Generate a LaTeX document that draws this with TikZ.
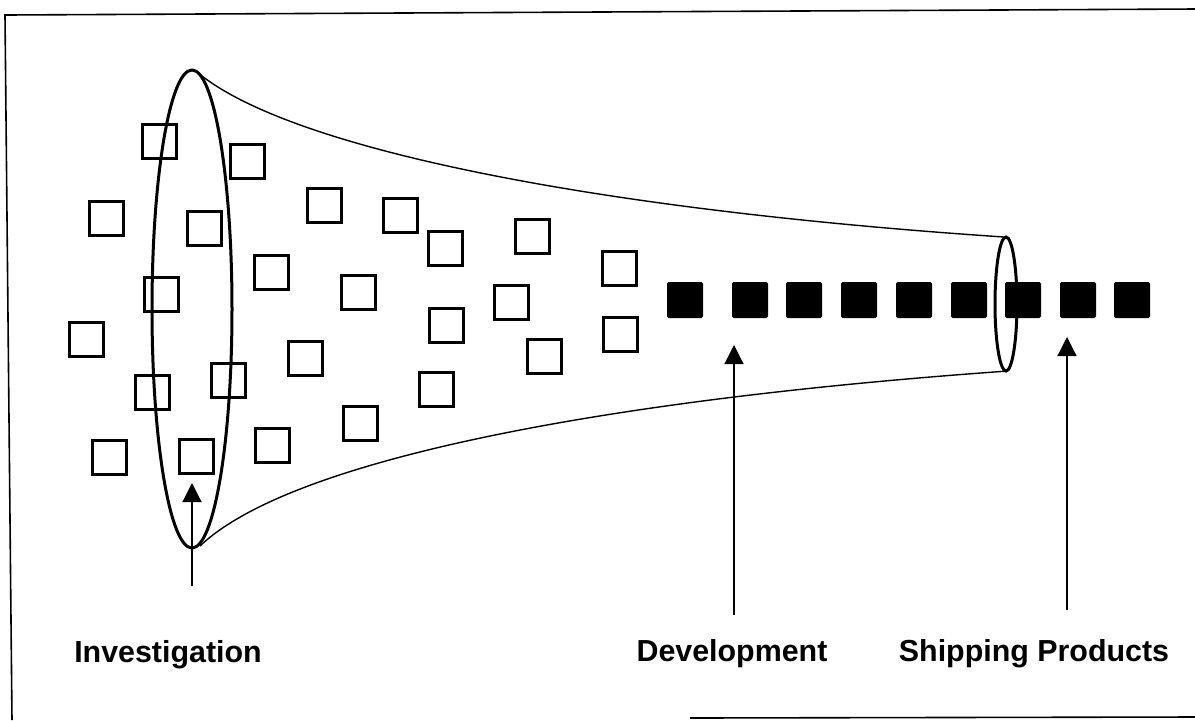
\documentclass[tikz,border=0pt]{standalone}
\usepackage{fontspec}
\setmainfont{Liberation Sans}
\usetikzlibrary{arrows.meta}

\tikzset{
  openbox/.style={draw, line width=1.5pt, inner sep=0pt, minimum size=17pt},
  fullbox/.style={fill=black, rounded corners=0.8pt, inner sep=0pt, minimum size=18pt},
  rim/.style={line width=1.5pt},
  skin/.style={line width=0.7pt},
  pointer/.style={line width=0.6pt, -{Triangle[length=9.5pt,width=9.5pt]}},
  tag/.style={font=\bfseries\fontsize{15.2pt}{18pt}\selectfont, anchor=base, inner sep=0pt}
}

\begin{document}
\begin{tikzpicture}[x=0.5pt, y=-0.5pt]

  \useasboundingbox (0,0) rectangle (1195,720);

  % cadre
  \draw[line width=0.8pt] (1195,9) -- (5,15) -- (12,720);
  \draw[line width=0.8pt] (690,718) -- (1195,717);

  % entonnoir
  \coordinate (bigtop) at (197,72);
  \coordinate (bigbot) at (200,546);
  \coordinate (smalltop) at (1004,237);
  \coordinate (smallbot) at (1008,371);
  \draw[rim] (192,309) ellipse (40 and 239);
  \draw[rim] (1006,304) ellipse (11 and 67);
  \draw[skin] (bigtop) .. controls (290,150) and (600,210) .. (smalltop);
  \draw[skin] (bigbot) .. controls (290,460) and (600,400) .. (smallbot);

  % idees
  \foreach [count=\i] \x/\y in {159/141, 247/161, 106/218, 204/228, 324/205,
      400/215, 445/248, 532/236, 271/272, 161/294, 358/292, 619/268, 511/302,
      86/339, 446/325, 305/358, 620/334, 544/356, 152/392, 228/380, 436/389,
      360/423, 109/457, 196/456, 272/445}
    \node[openbox] (o\i) at (\x,\y) {};

  % produits
  \foreach [count=\i] \x in {685,750,804,859,914,969,1023,1078,1132}
    \node[fullbox] (f\i) at (\x,300) {};

  % etiquettes
  \node[tag] (invest) at (168,662) {Investigation};
  \node[tag] (devel) at (732,661) {Development};
  \node[tag] (ship) at (1034,661) {Shipping Products};

  \coordinate (investfoot) at (192,586);
  \coordinate (investtip) at (192,483);
  \coordinate (develfoot) at (734,615);
  \coordinate (develtip) at (734,345);
  \coordinate (shipfoot) at (1067,610);
  \coordinate (shiptip) at (1067,337);
  \draw[pointer] (investfoot) -- (investtip);
  \draw[pointer] (develfoot) -- (develtip);
  \draw[pointer] (shipfoot) -- (shiptip);

\end{tikzpicture}
\end{document}
